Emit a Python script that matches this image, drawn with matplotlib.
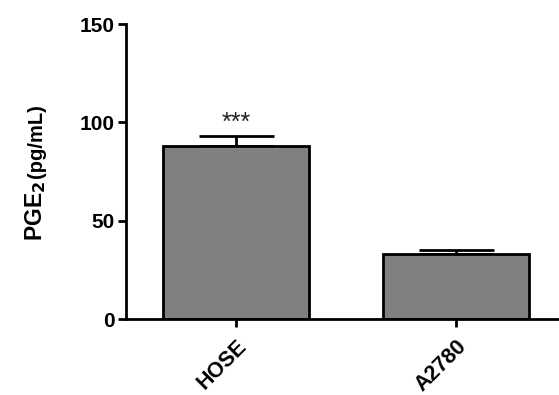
import numpy as np
import matplotlib.pyplot as plt

plt.rcParams['font.family'] = ['Liberation Sans', 'DejaVu Sans']

groups = ['HOSE', 'A2780']
means = [88.0, 33.0]
sem_up = [5.0, 2.1]
stars = ['***', '']

fig = plt.figure(figsize=(5.59, 3.95), dpi=100)
ax = fig.add_axes([0.2254, 0.1924, 0.7746, 0.7468])

x = np.arange(len(groups))
ax.bar(x, means, width=0.664, color='#808080', edgecolor='black', linewidth=2, zorder=2)
ax.errorbar(x, means, yerr=[np.zeros(len(means)), sem_up], fmt='none', ecolor='black',
            elinewidth=2, capsize=27, capthick=2, zorder=1)
for xi, m, e, s in zip(x, means, sem_up, stars):
    if s:
        ax.text(xi, m + e + 6.5, s, ha='center', va='center', fontsize=18, color='#222222')

ax.set_xlim(-0.5, 1.468)
ax.set_ylim(0, 150)
ax.set_yticks([0, 50, 100, 150])
ax.set_xticks(x)
ax.set_xticklabels(groups, rotation=45, ha='right', rotation_mode='anchor', fontsize=15.5, fontweight='bold')
for lab in ax.get_yticklabels():
    lab.set_fontsize(15)
    lab.set_fontweight('bold')

for side in ['top', 'right']:
    ax.spines[side].set_visible(False)
for side in ['left', 'bottom']:
    ax.spines[side].set_linewidth(2)
ax.tick_params(axis='both', width=2, length=6, pad=2)
ax.tick_params(axis='x', pad=6)

# y label made of two pieces with different sizes
t1 = fig.text(42 / 559, 1 - 241 / 395, 'PGE$_\\mathbf{2}$', rotation=90, rotation_mode='anchor',
              ha='left', va='baseline', fontsize=16.5, fontweight='bold')
fig.canvas.draw()
bb = t1.get_window_extent(renderer=fig.canvas.get_renderer())
top = bb.y1 / fig.bbox.height
fig.text(42 / 559, top + 0.006, '(pg/mL)', rotation=90, rotation_mode='anchor',
         ha='left', va='baseline', fontsize=14.5, fontweight='bold')

fig.savefig('out.png', dpi=100)
